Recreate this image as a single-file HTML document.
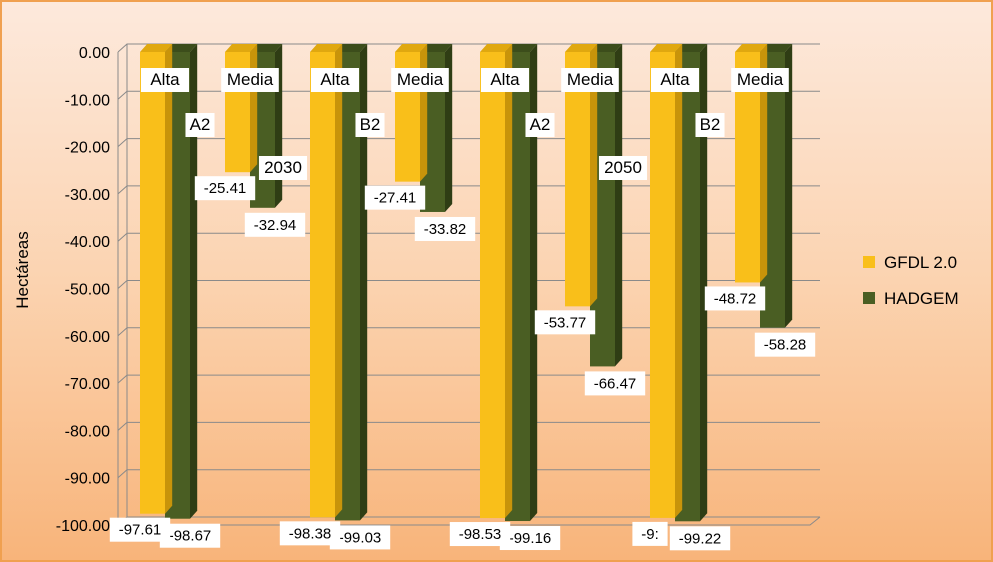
<!DOCTYPE html>
<html><head><meta charset="utf-8"><style>
body{margin:0;width:993px;height:562px;overflow:hidden;font-family:"Liberation Sans",sans-serif}
#wrap{position:absolute;left:0;top:0;width:989px;height:558px;border:2px solid #f0a050;background:linear-gradient(#fde9dc 0%,#fbd3b0 50%,#f8b47a 100%)}
</style></head><body>
<div id="wrap">
<svg id="c" width="993" height="562" style="position:absolute;left:-2px;top:-2px"></svg>
</div>
<script>
const categories=["Alta","Media","Alta","Media","Alta","Media","Alta","Media"];
const gfdl=[-97.61,-25.41,-98.38,-27.41,-98.53,-53.77,-98.5,-48.72];
const hadgem=[-98.67,-32.94,-99.03,-33.82,-99.16,-66.47,-99.22,-58.28];
const gfdlLabels=["-97.61","-25.41","-98.38","-27.41","-98.53","-53.77","-9:","-48.72"];
const hadgemLabels=["-98.67","-32.94","-99.03","-33.82","-99.16","-66.47","-99.22","-58.28"];
const scenarios=["A2","B2","A2","B2"];
const years=["2030","2050"];
const yTicks=[0,-10,-20,-30,-40,-50,-60,-70,-80,-90,-100];
const svg=document.getElementById('c');const NS='http://www.w3.org/2000/svg';
function el(t,a,p){const e=document.createElementNS(NS,t);for(const k in a)e.setAttribute(k,a[k]);(p||svg).appendChild(e);return e;}
const y=v=>52+(-v)*4.73;
const x0=140,step=85,bw=25,dx=9,dy=8;
yTicks.forEach(t=>{
 const g=el('g',{});
 
 el('polyline',{points:`${118},${y(t)} ${118+dx},${y(t)-dy} ${820},${y(t)-dy}`,fill:'none',stroke:'#8a8a8a','stroke-width':1},g);
 const tx=el('text',{x:110,y:y(t)+6,'text-anchor':'end','font-size':16,fill:'#000'});
 
 tx.textContent=t.toFixed(2);
});
el('line',{x1:118,y1:y(0),x2:118,y2:y(-100),stroke:'#8a8a8a'});
el('line',{x1:127,y1:y(0)-dy,x2:127,y2:y(-100)-dy,stroke:'#8a8a8a'});
el('polyline',{points:`118,${y(-100)} 810,${y(-100)} 820,${y(-100)-dy}`,fill:'none',stroke:'#8a8a8a'});
function bar(x,v,front,side,top,name){
 const g=el('g',{});
 const y1=y(0),y2=y(v);
 el('rect',{x:x,y:y1,width:bw,height:y2-y1,fill:front},g);
 el('polygon',{points:`${x+bw},${y1} ${x+bw+dx*0.8},${y1-dy} ${x+bw+dx*0.8},${y2-dy} ${x+bw},${y2}`,fill:side},g);
 el('polygon',{points:`${x},${y1} ${x+dx*0.8},${y1-dy} ${x+bw+dx*0.8},${y1-dy} ${x+bw},${y1}`,fill:top},g);
}
function label(cx,cy,txt,name,fs){
 const w=txt.length*(fs*0.56)+10;
 const g=el('g',{});
 el('rect',{x:cx-w/2,y:cy-12,width:w,height:24,fill:'#fff'},g);
 const t=el('text',{x:cx,y:cy+5,'text-anchor':'middle','font-size':fs,fill:'#000'},g);t.textContent=txt;
}
categories.forEach((c,i)=>{
 const x=x0+i*step;
 bar(x+bw,hadgem[i],'#4a5e23','#2f3d14','#3c4d1b','bar-hadgem');
 bar(x,gfdl[i],'#f9bf1a','#c8940a','#e0a80f','bar-gfdl');
 label(x+bw,80,c,'category-label',17);
});
categories.forEach((c,i)=>{
 const x=x0+i*step;
 label(x+bw+25,y(hadgem[i])+17,hadgemLabels[i],'value-label-hadgem',15);
});
categories.forEach((c,i)=>{
 const x=x0+i*step;
 label(x,y(gfdl[i])+16,gfdlLabels[i],'value-label-gfdl',15);
});
scenarios.forEach((s,i)=>label(x0+60+i*2*step,125,s,'scenario-label',17));
years.forEach((s,i)=>label(x0+143+i*4*step,168,s,'year-label',17));
const yt=el('text',{x:28,y:270,transform:'rotate(-90 28 270)','text-anchor':'middle','font-size':17});
yt.textContent='Hectáreas';
[['GFDL 2.0','#f9bf1a',262],['HADGEM','#4a5e23',298]].forEach(l=>{
 const g=el('g',{});
 el('rect',{x:863,y:l[2]-6,width:12,height:12,fill:l[1]},g);
 const t=el('text',{x:884,y:l[2]+6,'font-size':17},g);t.textContent=l[0];
});
</script>
</body></html>
